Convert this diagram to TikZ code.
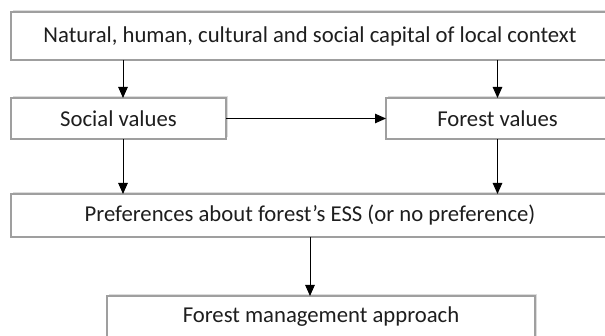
\documentclass[tikz,border=0pt]{standalone}
\usepackage{fontspec}
\setmainfont{Carlito}
\usetikzlibrary{arrows.meta,shadows}

\definecolor{c9f9f9f}{RGB}{159,159,159}
\definecolor{c1e1e1e}{RGB}{30,30,30}

\tikzset{
  flowbox/.style={draw=c9f9f9f, line width=1.3pt, fill=white, text=c1e1e1e,
    inner sep=0pt, outer sep=0pt,
    drop shadow={shadow xshift=1.5pt, shadow yshift=1.8pt, opacity=0.3, fill=black!45},
    font=\fontsize{22.7}{25}\selectfont},
  flowarrow/.style={draw=black, line width=1pt, -{Triangle[width=9.5pt,length=11pt]}}
}

\begin{document}
\begin{tikzpicture}[y=1pt, x=1pt, yscale=-1]
  \useasboundingbox (0,0) rectangle (605,336);

  % boxes
  \node[flowbox, minimum width=598pt, minimum height=48pt] (capital) at (310,36)
    {Natural, human, cultural and social capital of local context};
  \node[flowbox, minimum width=215pt, minimum height=41pt] (social) at (118.5,118.5)
    {Social values};
  \node[flowbox, minimum width=223pt, minimum height=41pt] (forest) at (497.5,118.5)
    {Forest values};
  \node[flowbox, minimum width=598pt, minimum height=43pt] (prefs) at (310,215.5)
    {Preferences about forest’s ESS (or no preference)};
  \node[flowbox, minimum width=428pt, minimum height=42pt] (approach) at (321,317)
    {Forest management approach};

  \coordinate (leftcol) at (123,0);

  % connectors
  \draw[flowarrow] (capital.south -| leftcol) -- (social.north -| leftcol);
  \draw[flowarrow] (capital.south -| forest.north) -- (forest.north);
  \draw[flowarrow] (social.east) -- (forest.west);
  \draw[flowarrow] (social.south -| leftcol) -- (prefs.north -| leftcol);
  \draw[flowarrow] (forest.south) -- (prefs.north -| forest.south);
  \draw[flowarrow] (prefs.south) -- (prefs.south |- approach.north);
\end{tikzpicture}
\end{document}
